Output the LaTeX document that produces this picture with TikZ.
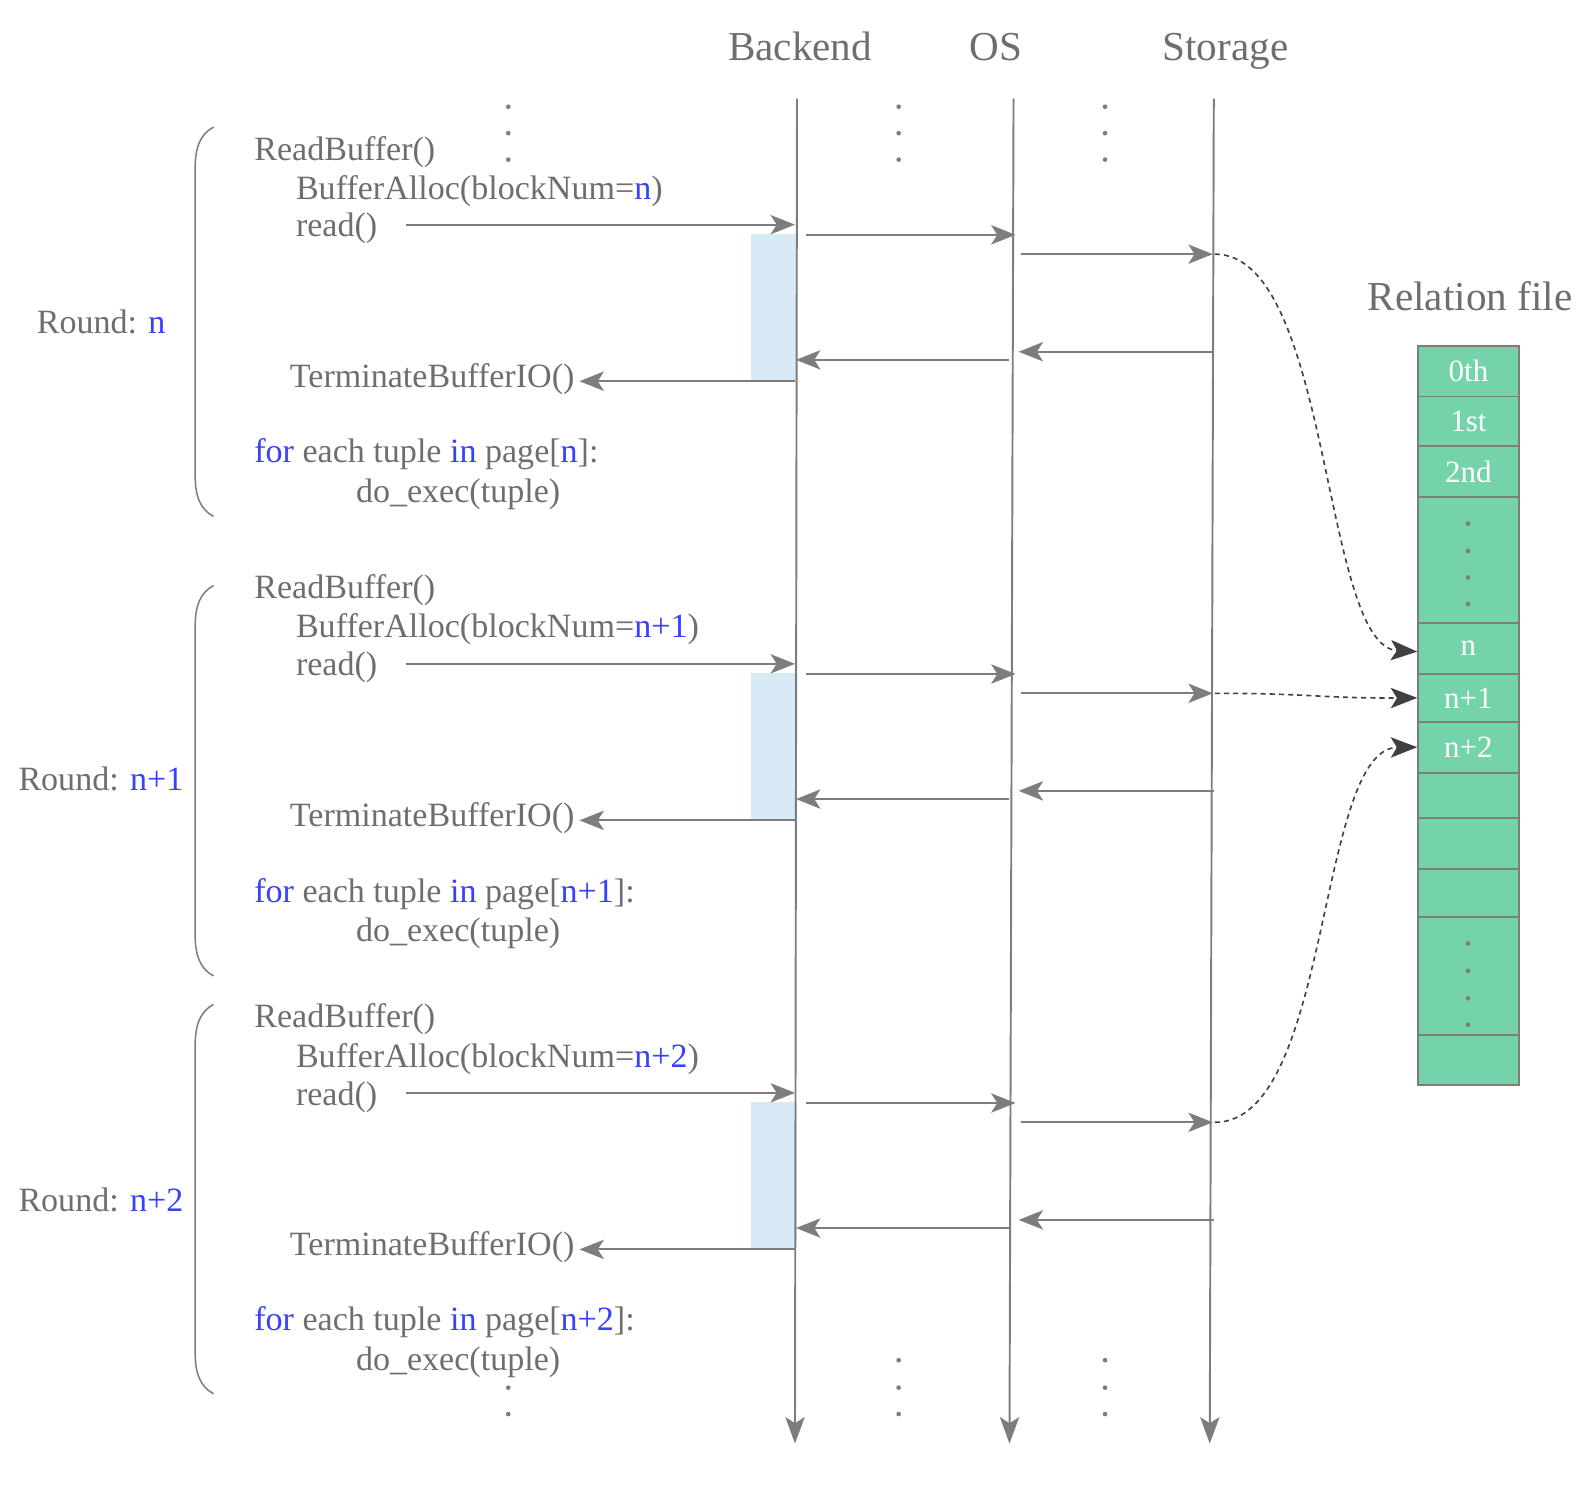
\documentclass[tikz,border=0pt]{standalone}
\usepackage{fontspec}
\setmainfont{Liberation Serif}
\usetikzlibrary{arrows.meta}
\definecolor{lg}{RGB}{125,125,125}
\definecolor{tg}{RGB}{110,110,110}
\definecolor{kb}{RGB}{55,65,255}
\definecolor{mint}{RGB}{116,211,169}
\definecolor{ltb}{RGB}{216,234,245}
\definecolor{dk}{RGB}{64,64,64}
\newcommand{\kw}[1]{\textcolor{kb}{#1}}
\begin{document}
\begin{tikzpicture}[x=1pt,y=-1pt,
  code/.style={anchor=base west, inner sep=0pt, text=tg, font=\fontsize{33.5}{37}\selectfont},
  hdr/.style={anchor=base, inner sep=0pt, text=tg, font=\fontsize{40.5}{45}\selectfont},
  life/.style={draw=lg, line width=1.9pt, -{Stealth[length=26pt,width=19pt,inset=6pt]}},
  msg/.style={draw=lg, line width=1.9pt, -{Stealth[length=24pt,width=19pt,inset=6pt]}},
  fetch/.style={draw=dk, line width=1.6pt, dash pattern=on 5pt off 4pt, -{Stealth[length=26pt,width=20pt,inset=6pt]}},
  cell/.style={draw=lg, line width=1.8pt, fill=mint, minimum width=99pt, text=white, font=\fontsize{30.5}{34}\selectfont, inner sep=0pt},
  brace/.style={draw=lg, line width=1.5pt},
  dotc/.style={fill=lg}
]
\useasboundingbox (0,0) rectangle (1568,1474);

% headers
\node[hdr] (hB) at (787,60) {Backend};
\node[hdr] (hO) at (979.5,60) {OS};
\node[hdr] (hS) at (1205.5,60) {Storage};
\node[hdr] (hR) at (1446,305) {Relation file};

% activation boxes
\foreach \d in {0,432,854}{
  \fill[ltb] (739,230+\d) rectangle (784,374+\d);
}

% lifelines
\coordinate (bT) at (784,97);  \coordinate (bB) at (782,1420);
\coordinate (oT) at (997,97);  \coordinate (oB) at (993,1420);
\coordinate (sT) at (1194,97); \coordinate (sB) at (1190,1420);
\draw[life] (bT) -- (bB);
\draw[life] (oT) -- (oB);
\draw[life] (sT) -- (sB);

% ellipsis dots
\foreach \x in {500,884,1087}{
  \foreach \y in {105,131,157}{ \fill[dotc] (\x,\y) circle (2.3pt); }
}
\foreach \x in {884,1087}{
  \foreach \y in {1338,1365,1391}{ \fill[dotc] (\x,\y) circle (2.3pt); }
}
\foreach \y in {1365,1391}{ \fill[dotc] (500,\y) circle (2.3pt); }

% messages per round
\foreach \r/\d in {0/0,1/432,2/854}{
  \coordinate (ra\r) at (399,221+\d);  \coordinate (rb\r) at (782,221+\d);
  \coordinate (ba\r) at (793,231+\d);  \coordinate (bb\r) at (999,231+\d);
  \coordinate (oa\r) at (1004,250+\d); \coordinate (ob\r) at (1193,250+\d);
  \coordinate (sa\r) at (1194,346+\d); \coordinate (sb\r) at (1002,346+\d);
  \coordinate (qa\r) at (993,354+\d);  \coordinate (qb\r) at (783,354+\d);
  \coordinate (ta\r) at (782,375+\d);  \coordinate (tb\r) at (570,375+\d);
  \draw[msg] (ra\r) -- (rb\r);
  \draw[msg] (ba\r) -- (bb\r);
  \draw[msg] (oa\r) -- (ob\r);
  \draw[msg] (sa\r) -- (sb\r);
  \draw[msg] (qa\r) -- (qb\r);
  \draw[msg] (ta\r) -- (tb\r);
}

% braces
\foreach \t/\b in {125/508,576/960,988/1371}{
  \draw[brace] (210,\t) .. controls (197,\t+7) and (192,\t+20) .. (192,\t+40)
     -- (192,\b-40) .. controls (192,\b-20) and (197,\b-7) .. (210,\b);
}

% round n
\node[code] (rl0) at (36,328) {Round: \kw{n}};
\node[code] (rbf0) at (250,158) {ReadBuffer()};
\node[code] (bal0) at (291,196) {BufferAlloc(blockNum=\kw{n})};
\node[code] (rdt0) at (291,233) {read()};
\node[code] (tbi0) at (285,381) {TerminateBufferIO()};
\node[code] (fe0) at (250,455) {\kw{for} each tuple \kw{in} page[\kw{n}]:};
\node[code] (de0) at (350,494) {do\_exec(tuple)};

% round n+1
\node[code] (rl1) at (18,778) {Round: \kw{n+1}};
\node[code] (rbf1) at (250,589) {ReadBuffer()};
\node[code] (bal1) at (291,627) {BufferAlloc(blockNum=\kw{n+1})};
\node[code] (rdt1) at (291,664) {read()};
\node[code] (tbi1) at (285,813) {TerminateBufferIO()};
\node[code] (fe1) at (250,888) {\kw{for} each tuple \kw{in} page[\kw{n+1}]:};
\node[code] (de1) at (350,926) {do\_exec(tuple)};

% round n+2
\node[code] (rl2) at (18,1192) {Round: \kw{n+2}};
\node[code] (rbf2) at (250,1011) {ReadBuffer()};
\node[code] (bal2) at (291,1050) {BufferAlloc(blockNum=\kw{n+2})};
\node[code] (rdt2) at (291,1087) {read()};
\node[code] (tbi2) at (285,1235) {TerminateBufferIO()};
\node[code] (fe2) at (250,1309) {\kw{for} each tuple \kw{in} page[\kw{n+2}]:};
\node[code] (de2) at (350,1348) {do\_exec(tuple)};

% relation file cells
\node[cell, minimum height=50pt]  (c0)  at (1444.5,365)   {0th};
\node[cell, minimum height=49pt]  (c1)  at (1444.5,414.5) {1st};
\node[cell, minimum height=50pt]  (c2)  at (1444.5,464)   {2nd};
\node[cell, minimum height=124pt] (cd1) at (1444.5,551)   {};
\node[cell, minimum height=50pt]  (cn)  at (1444.5,638)   {n};
\node[cell, minimum height=47pt]  (cn1) at (1444.5,686.5) {n+1};
\node[cell, minimum height=50pt]  (cn2) at (1444.5,735)   {n+2};
\node[cell, minimum height=45pt]  (ce1) at (1444.5,782.5) {};
\node[cell, minimum height=50pt]  (ce2) at (1444.5,830)   {};
\node[cell, minimum height=47pt]  (ce3) at (1444.5,878.5) {};
\node[cell, minimum height=116pt] (cd2) at (1444.5,960)   {};
\node[cell, minimum height=49pt]  (cl)  at (1444.5,1042.5) {};
\foreach \y in {515,542,568,594,928,955,982,1008}{ \fill[dotc] (1444,\y) circle (2.3pt); }

% fetch arrows
\coordinate (f0) at (1195,250);
\coordinate (f1) at (1195,682);
\coordinate (f2) at (1195,1104);
\draw[fetch] (f0) .. controls (1310,250) and (1300,636) .. ([yshift=-3pt]cn.west);
\draw[fetch] (f1) .. controls (1290,682) and (1300,687) .. (cn1.west);
\draw[fetch] (f2) .. controls (1310,1104) and (1295,736) .. (cn2.west);
\end{tikzpicture}
\end{document}
